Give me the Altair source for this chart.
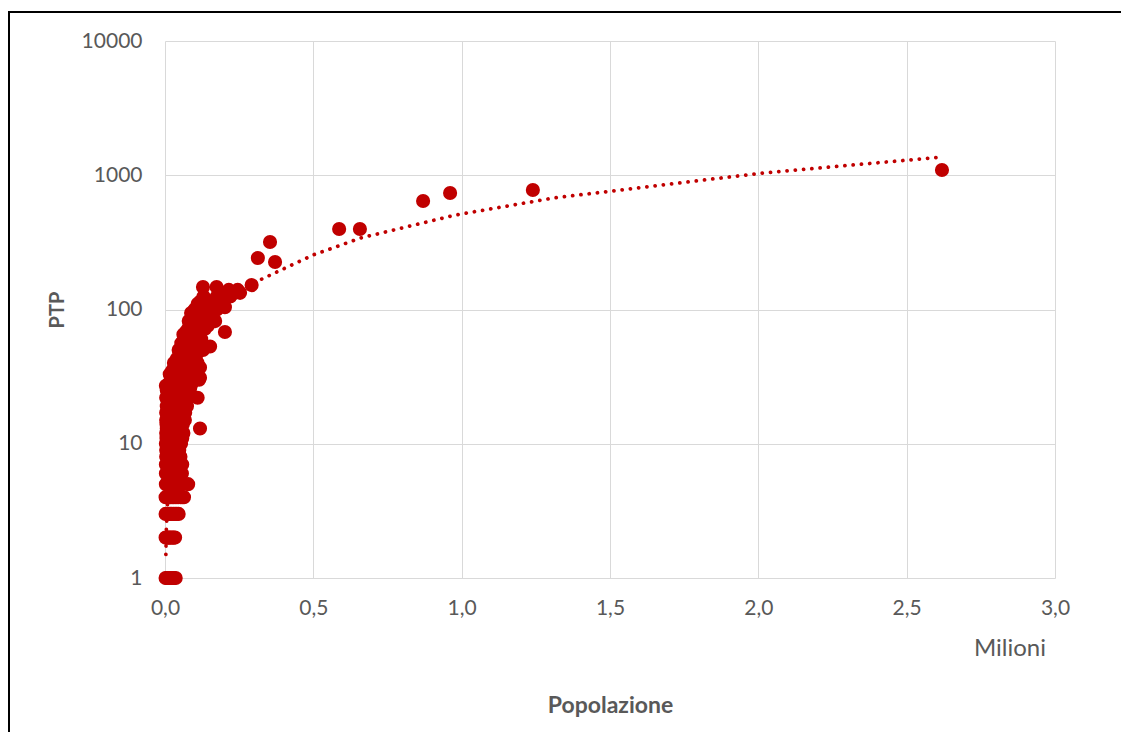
import altair as alt
import pandas as pd

# Population (millions) and PTP values
pop_milioni = [
    # PTP = 1
    0.002, 0.006, 0.010, 0.014, 0.018, 0.022, 0.026, 0.030, 0.036,
    # PTP = 2
    0.002, 0.006, 0.010, 0.014, 0.019, 0.024, 0.029, 0.034,
    # PTP = 3
    0.002, 0.007, 0.012, 0.017, 0.022, 0.028, 0.034, 0.040, 0.046,
    # PTP = 4
    0.002, 0.007, 0.012, 0.018, 0.024, 0.030, 0.037, 0.044, 0.052, 0.058, 0.064,
    # PTP = 5
    0.003, 0.009, 0.015, 0.022, 0.030, 0.038, 0.046, 0.055, 0.078,
    # PTP = 6
    0.003, 0.010, 0.018, 0.026, 0.034, 0.043, 0.050, 0.057,
    # PTP = 7
    0.003, 0.011, 0.020, 0.030, 0.040, 0.050, 0.058,
    # PTP = 8
    0.004, 0.012, 0.022, 0.032, 0.042, 0.052,
    # PTP = 9
    0.004, 0.014, 0.025, 0.036, 0.048,
    # PTP = 10
    0.003, 0.013, 0.024, 0.035, 0.046, 0.054,
    # PTP = 11
    0.005, 0.018, 0.030, 0.044, 0.058,
    # PTP = 12
    0.004, 0.016, 0.028, 0.040, 0.052, 0.062,
    # PTP = 13
    0.006, 0.020, 0.034, 0.048, 0.118,
    # PTP = 14
    0.005, 0.018, 0.032, 0.046, 0.060,
    # PTP = 15
    0.004, 0.020, 0.036, 0.052, 0.067,
    # PTP = 16
    0.008, 0.024, 0.040, 0.058,
    # PTP = 17
    0.004, 0.018, 0.034, 0.050, 0.068,
    # PTP = 18
    0.010, 0.028, 0.046, 0.066,
    # PTP = 19
    0.006, 0.022, 0.040, 0.058, 0.074,
    # PTP = 20
    0.012, 0.030, 0.050, 0.070,
    # PTP = 21
    0.008, 0.026, 0.044, 0.064,
    # PTP = 22
    0.004, 0.020, 0.040, 0.060, 0.080, 0.110,
    # PTP = 23
    0.014, 0.034, 0.054, 0.074,
    # PTP = 24
    0.010, 0.030, 0.050, 0.072,
    # PTP = 25
    0.006, 0.024, 0.046, 0.068,
    # PTP = 26
    0.016, 0.040, 0.062, 0.085,
    # PTP = 27
    0.003, 0.028, 0.052, 0.075,
    # PTP = 28
    0.012, 0.036, 0.060, 0.090,
    # PTP = 30
    0.020, 0.044, 0.068, 0.095, 0.115,
    # PTP = 31
    0.030, 0.058, 0.085, 0.118,
    # PTP = 33
    0.016, 0.040, 0.066, 0.094,
    # PTP = 35
    0.024, 0.050, 0.078, 0.105,
    # PTP = 37
    0.036, 0.062, 0.090, 0.118,
    # PTP = 40
    0.030, 0.056, 0.084, 0.110,
    # PTP = 43
    0.040, 0.068, 0.098,
    # PTP = 46
    0.050, 0.078, 0.106,
    # PTP = 50
    0.046, 0.072, 0.100, 0.128,
    # PTP = 53
    0.060, 0.088, 0.152,
    # PTP = 56
    0.055, 0.082, 0.110,
    # PTP = 60
    0.065, 0.095, 0.122,
    # PTP = 65
    0.062, 0.090, 0.118,
    # PTP = 68
    0.070, 0.100, 0.202,
    # PTP = 72
    0.078, 0.108, 0.135,
    # PTP = 76
    0.085, 0.115, 0.145,
    # PTP = 82
    0.080, 0.110, 0.169,
    # PTP = 88
    0.092, 0.125, 0.160,
    # PTP = 94
    0.088, 0.120, 0.150,
    # PTP = 100
    0.100, 0.135, 0.175,
    # PTP = 104
    0.202,
    # PTP = 110
    0.110, 0.145, 0.185,
    # PTP = 115
    0.120, 0.160, 0.195,
    # PTP = 125
    0.130, 0.175, 0.220,
    # PTP = 133
    0.195, 0.253,
    # PTP = 140
    0.215, 0.245,
    # PTP = 147
    0.128, 0.174,
    # PTP = 152
    0.292,
    # large cities
    0.313, 0.354, 0.371, 0.587, 0.657, 0.870, 0.961, 1.240, 2.619,
]

ptp = [
    1, 1, 1, 1, 1, 1, 1, 1, 1,
    2, 2, 2, 2, 2, 2, 2, 2,
    3, 3, 3, 3, 3, 3, 3, 3, 3,
    4, 4, 4, 4, 4, 4, 4, 4, 4, 4, 4,
    5, 5, 5, 5, 5, 5, 5, 5, 5,
    6, 6, 6, 6, 6, 6, 6, 6,
    7, 7, 7, 7, 7, 7, 7,
    8, 8, 8, 8, 8, 8,
    9, 9, 9, 9, 9,
    10, 10, 10, 10, 10, 10,
    11, 11, 11, 11, 11,
    12, 12, 12, 12, 12, 12,
    13, 13, 13, 13, 13,
    14, 14, 14, 14, 14,
    15, 15, 15, 15, 15,
    16, 16, 16, 16,
    17, 17, 17, 17, 17,
    18, 18, 18, 18,
    19, 19, 19, 19, 19,
    20, 20, 20, 20,
    21, 21, 21, 21,
    22, 22, 22, 22, 22, 22,
    23, 23, 23, 23,
    24, 24, 24, 24,
    25, 25, 25, 25,
    26, 26, 26, 26,
    27, 27, 27, 27,
    28, 28, 28, 28,
    30, 30, 30, 30, 30,
    31, 31, 31, 31,
    33, 33, 33, 33,
    35, 35, 35, 35,
    37, 37, 37, 37,
    40, 40, 40, 40,
    43, 43, 43,
    46, 46, 46,
    50, 50, 50, 50,
    53, 53, 53,
    56, 56, 56,
    60, 60, 60,
    65, 65, 65,
    68, 68, 68,
    72, 72, 72,
    76, 76, 76,
    82, 82, 82,
    88, 88, 88,
    94, 94, 94,
    100, 100, 100,
    104,
    110, 110, 110,
    115, 115, 115,
    125, 125, 125,
    133, 133,
    140, 140,
    147, 147,
    152,
    242, 318, 226, 398, 398, 643, 738, 776, 1094,
]

# Dotted power trend line, points read along its path
trend_pop = [0.0029, 0.0046, 0.017, 0.034, 0.067, 0.118, 0.185, 0.243,
             0.32, 0.50, 0.66, 0.98, 1.31, 2.00, 2.619]
trend_ptp = [1.5, 2.35, 8.7, 17, 35, 61, 95, 125,
             166, 255, 341, 506, 677, 1030, 1368]

x_ticks = [0.0, 0.5, 1.0, 1.5, 2.0, 2.5, 3.0]
y_ticks = [1, 10, 100, 1000, 10000]
unit_label = ["Milioni"]

points = pd.DataFrame({"pop": pop_milioni, "ptp": ptp})
trend = pd.DataFrame({"pop": trend_pop, "ptp": trend_ptp})

RED = "#C00000"
GREY = "#595959"
FONT = "Lato"

W, H = 890, 537

x_scale = alt.Scale(domain=[0, 3], nice=False, zero=False)
y_scale = alt.Scale(type="log", domain=[1, 10000], nice=False)

x_axis = alt.Axis(
    values=x_ticks,
    labelExpr="replace(format(datum.value, '.1f'), '.', ',')",
    title="Popolazione",
    grid=True,
    domain=False,
    ticks=False,
    labelPadding=19,
    labelFlush=False,
    titleX=W / 2,
    titleY=127,
    titleAlign="center",
    titleBaseline="middle",
    titleFontSize=23,
)
y_axis = alt.Axis(
    values=y_ticks,
    format="d",
    title="PTP",
    grid=True,
    domain=False,
    ticks=False,
    labelPadding=23,
    titleX=-108,
    titleY=H / 2,
    titleAngle=270,
    titleAlign="center",
    titleBaseline="middle",
    titleFontSize=20,
)

border = alt.Chart(alt.Data(values=[{}])).mark_rect(
    fillOpacity=0, stroke="#000000", strokeWidth=2
).encode(
    x=alt.value(-156), x2=alt.value(1100), y=alt.value(-29), y2=alt.value(900)
)

trend_line = alt.Chart(trend).mark_line(
    color=RED, strokeWidth=3.75, strokeDash=[0.1, 8.2], strokeCap="round"
).encode(
    x=alt.X("pop:Q", scale=x_scale, axis=x_axis),
    y=alt.Y("ptp:Q", scale=y_scale, axis=y_axis),
)

scatter = alt.Chart(points).mark_circle(
    color=RED, opacity=1, size=200
).encode(
    x=alt.X("pop:Q", scale=x_scale, axis=x_axis),
    y=alt.Y("ptp:Q", scale=y_scale, axis=y_axis),
)

unit = alt.Chart(pd.DataFrame({"t": unit_label})).mark_text(
    font=FONT, fontSize=24, color=GREY, align="center", baseline="middle"
).encode(
    x=alt.value(845), y=alt.value(608), text="t:N"
)

chart = alt.layer(border, trend_line, scatter, unit).properties(
    width=W,
    height=H,
    autosize=alt.AutoSizeParams(type="none"),
    padding={"left": 157, "top": 33, "right": 66, "bottom": 154},
    background="#ffffff",
).configure_view(
    stroke="transparent"
).configure_axis(
    gridColor="#D9D9D9",
    gridWidth=1,
    labelFont=FONT,
    labelFontSize=21,
    labelColor=GREY,
    titleFont=FONT,
    titleFontWeight="bold",
    titleColor=GREY,
)

chart.save("out.html", embed_options={"renderer": "svg", "actions": False})
